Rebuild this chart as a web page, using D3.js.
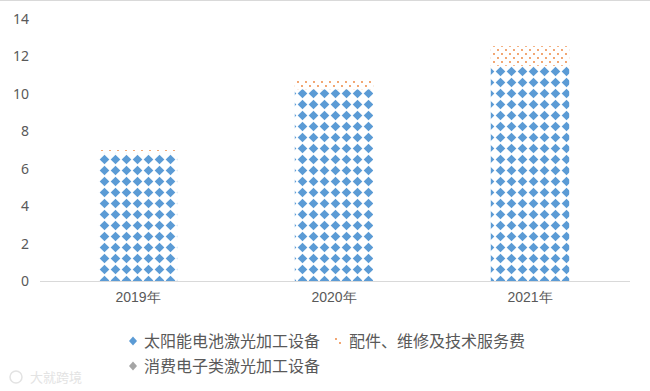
<!DOCTYPE html>
<html>
<head>
<meta charset="utf-8">
<script src="https://cdn.jsdelivr.net/npm/d3@7"></script>
<style>
  body { margin: 0; background: #fff; }
  svg { display: block; font-family: "Noto Sans CJK SC", "Noto Sans", sans-serif; }
</style>
</head>
<body>
<div id="chart"></div>
<script>
var years = ['2019年', '2020年', '2021年'];
var seriesNames = ['太阳能电池激光加工设备', '配件、维修及技术服务费', '消费电子类激光加工设备'];
var solar = [6.85, 10.25, 11.5];
var parts = [0.15, 0.47, 1.05];
var consumer = [0, 0, 0];
var yTicks = [0, 2, 4, 6, 8, 10, 12, 14];

var width = 650, height = 391,
    margin = { top: 19, right: 22, bottom: 110, left: 40 },
    textColor = '#595959',
    blue = '#5b9bd5',
    orange = '#ed7d31',
    gray = '#a5a5a5';

var svg = d3.select('#chart').append('svg')
    .attr('width', width)
    .attr('height', height);

var defs = svg.append('defs');

// diamond checker for the solar series
var pBlue = defs.append('pattern')
    .attr('id', 'pat-blue')
    .attr('patternUnits', 'userSpaceOnUse')
    .attr('width', 11).attr('height', 11);
pBlue.append('rect').attr('width', 11).attr('height', 11).attr('fill', '#fff');
pBlue.append('path').attr('d', 'M5.5,0.7L10.3,5.5L5.5,10.3L0.7,5.5Z').attr('fill', blue);

// dotted grid for the parts/service series
var pOrange = defs.append('pattern')
    .attr('id', 'pat-orange')
    .attr('patternUnits', 'userSpaceOnUse')
    .attr('width', 8).attr('height', 8);
pOrange.append('rect').attr('width', 8).attr('height', 8).attr('fill', '#fff');
pOrange.append('circle').attr('cx', 2).attr('cy', 2).attr('r', 0.9).attr('fill', orange);
pOrange.append('circle').attr('cx', 6).attr('cy', 6).attr('r', 0.9).attr('fill', orange);

var pGray = defs.append('pattern')
    .attr('id', 'pat-gray')
    .attr('patternUnits', 'userSpaceOnUse')
    .attr('width', 11).attr('height', 11);
pGray.append('rect').attr('width', 11).attr('height', 11).attr('fill', '#fff');
pGray.append('path').attr('d', 'M5.5,0.7L10.3,5.5L5.5,10.3L0.7,5.5Z').attr('fill', gray);

var fills = ['url(#pat-blue)', 'url(#pat-orange)', 'url(#pat-gray)'];

// top frame line
svg.append('line')
    .attr('x1', 0).attr('x2', width)
    .attr('y1', 0.5).attr('y2', 0.5)
    .attr('stroke', '#d9d9d9');

var x = d3.scaleBand()
    .domain(years)
    .range([margin.left, width - margin.right])
    .paddingInner(0.6)
    .paddingOuter(0.3);

var y = d3.scaleLinear()
    .domain([0, 14])
    .range([height - margin.bottom, margin.top]);

var table = years.map(function (yr, i) {
    return { year: yr, s0: solar[i], s1: parts[i], s2: consumer[i] };
});

var stack = d3.stack().keys(['s0', 's1', 's2']);
var layers = stack(table);

svg.append('g')
    .selectAll('g')
    .data(layers)
    .join('g')
    .attr('fill', function (d, i) { return fills[i]; })
    .selectAll('rect')
    .data(function (d) { return d; })
    .join('rect')
    .attr('x', function (d) { return x(d.data.year); })
    .attr('y', function (d) { return y(d[1]); })
    .attr('width', x.bandwidth())
    .attr('height', function (d) { return y(d[0]) - y(d[1]); });

// y axis labels
var yAxis = svg.append('g')
    .attr('transform', 'translate(' + margin.left + ',0)')
    .call(d3.axisLeft(y).tickValues(yTicks).tickSize(0).tickPadding(11));
yAxis.select('.domain').remove();
yAxis.selectAll('text')
    .attr('fill', textColor)
    .style('font-size', '14px')
    .style('font-family', '"Noto Sans", "Liberation Sans", sans-serif');

// x axis
var xAxis = svg.append('g')
    .attr('transform', 'translate(0,' + y(0) + ')')
    .call(d3.axisBottom(x).tickSize(0).tickPadding(11));
xAxis.select('.domain')
    .attr('stroke', '#d9d9d9')
    .attr('d', 'M' + margin.left + ',0.5H' + (width - margin.right + 2));
xAxis.selectAll('text')
    .attr('fill', textColor)
    .style('font-size', '14px');

// legend
var legendItems = [
    { name: seriesNames[0], x: 133, y: 341, kind: 'diamond', color: blue },
    { name: seriesNames[1], x: 338, y: 341, kind: 'dots', color: orange },
    { name: seriesNames[2], x: 133, y: 366, kind: 'diamond', color: gray }
];

var legend = svg.append('g').attr('class', 'legend');
var item = legend.selectAll('g')
    .data(legendItems)
    .join('g')
    .attr('transform', function (d) { return 'translate(' + d.x + ',' + d.y + ')'; });

item.filter(function (d) { return d.kind === 'diamond'; })
    .append('path')
    .attr('d', 'M0,-4.5L4,0L0,4.5L-4,0Z')
    .attr('fill', function (d) { return d.color; });

item.filter(function (d) { return d.kind === 'dots'; })
    .append('rect')
    .attr('x', -4.5).attr('y', -4.5)
    .attr('width', 9).attr('height', 9)
    .attr('fill', 'url(#pat-orange)');

item.append('text')
    .text(function (d) { return d.name; })
    .attr('x', 11)
    .attr('y', 0)
    .attr('dy', '0.36em')
    .attr('fill', textColor)
    .style('font-size', '16px');

// watermark
svg.append('text')
    .text('大就跨境')
    .attr('x', 30)
    .attr('y', 382)
    .attr('fill', '#e3e3e3')
    .style('font-size', '13px');
svg.append('circle')
    .attr('cx', 16).attr('cy', 377).attr('r', 6)
    .attr('fill', 'none')
    .attr('stroke', '#e3e3e3')
    .attr('stroke-width', 1.5);
</script>
</body>
</html>
